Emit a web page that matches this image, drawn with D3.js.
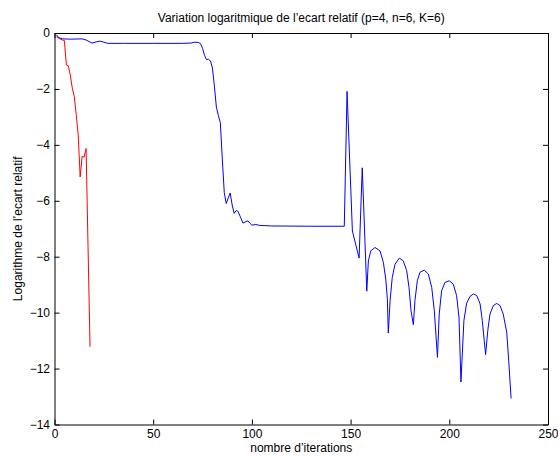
<!DOCTYPE html>
<html>
<head>
<meta charset="utf-8">
<script src="https://cdn.jsdelivr.net/npm/d3@7/dist/d3.min.js"></script>
<style>
  html, body { margin: 0; padding: 0; background: #fff; }
  svg { display: block; }
  text { font-family: "Liberation Sans", Arial, Helvetica, sans-serif; }
</style>
</head>
<body>
<svg id="chart" width="558" height="458"></svg>
<script>
// ---- Data ----
const title = "Variation logaritmique de l\u2019ecart relatif (p=4, n=6, K=6)";
const xLabel = "nombre d\u2019iterations";
const yLabel = "Logarithme de l\u2019ecart relatif";
const xTicks = [0, 50, 100, 150, 200, 250];
const yTicks = [0, -2, -4, -6, -8, -10, -12, -14];

const redIter  = [1, 2, 3, 4, 5, 6, 7, 8, 9, 10, 11, 12, 13, 14, 15, 16, 17, 18];
const redValue = [-0.14, -0.19, -0.22, -0.25, -0.27, -1.14, -1.17, -1.50, -1.97, -2.27,
                  -2.92, -3.63, -5.15, -4.41, -4.44, -4.13, -7.68, -11.22];

const blueIter = [1, 2, 4, 8, 14, 16, 19, 21, 23, 25, 27, 35, 50, 65, 69, 71, 73, 74, 75, 76,
  77, 78, 79, 80, 81, 82, 83, 84, 85, 86, 87, 88, 89, 90, 91, 92, 93, 94, 95.5, 97,
  98, 99, 100, 102, 104, 110, 130, 146.8,
  148.2, 150.9, 154.3, 155.9, 158.2,
  159.0, 160.2, 162.4, 164.9, 166.6, 167.8, 168.6, 169.1,
  170.0, 171.1, 172.5, 174.7, 176.7, 178.4, 179.6, 180.6, 181.8,
  182.6, 183.8, 185.1, 187.3, 189.4, 191.1, 192.4, 194.0,
  194.9, 196.1, 197.8, 200.0, 202.0, 203.7, 204.9, 205.9,
  207.4, 208.8, 210.5, 212.2, 213.9, 215.6, 216.7, 217.7, 218.4,
  219.5, 220.6, 222.3, 224.0, 225.7, 227.3, 229.1, 230.2, 231.3];
const blueValue = [-0.06, -0.16, -0.21, -0.22, -0.21, -0.25, -0.36, -0.32, -0.29, -0.33, -0.37, -0.37, -0.37, -0.37, -0.36, -0.33, -0.34, -0.38, -0.55, -0.80,
  -0.95, -0.94, -1.00, -1.25, -1.90, -2.65, -2.95, -3.20, -4.50, -5.70, -6.10, -5.90, -5.72, -6.15, -6.45, -6.35, -6.38, -6.55, -6.80, -6.74,
  -6.72, -6.80, -6.87, -6.85, -6.88, -6.90, -6.91, -6.91,
  -2.09, -7.08, -8.05, -4.82, -9.23,
  -8.15, -7.79, -7.67, -7.79, -8.20, -8.80, -9.49, -10.73,
  -9.57, -8.74, -8.27, -8.05, -8.15, -8.50, -9.10, -9.93, -10.43,
  -9.57, -8.86, -8.56, -8.48, -8.62, -9.10, -9.93, -11.60,
  -10.05, -9.22, -8.92, -8.86, -8.98, -9.39, -10.16, -12.48,
  -10.28, -9.66, -9.42, -9.33, -9.39, -9.69, -10.28, -11.00, -11.50,
  -10.64, -10.05, -9.75, -9.67, -9.75, -10.05, -10.70, -11.83, -13.07];

// ---- Layout ----
const svg = d3.select("#chart");
const L = 54.5, R = 548, T = 33, B = 424.5;
const x = d3.scaleLinear().domain([0, 250]).range([L, R]);
const y = d3.scaleLinear().domain([-14, 0]).range([B, T]);
const tickLen = 5;
const fmt = d => (d < 0 ? "\u2212" + Math.abs(d) : String(d));

// Lines
const line = d3.line().x(d => x(d[0])).y(d => y(d[1]));
svg.append("clipPath").attr("id", "clip")
  .append("rect").attr("x", L).attr("y", T).attr("width", R - L).attr("height", B - T);

const plot = svg.append("g").attr("clip-path", "url(#clip)");
plot.append("path")
  .datum(blueIter.map((d, i) => [d, blueValue[i]]))
  .attr("d", line).attr("fill", "none").attr("stroke", "#0000ff").attr("stroke-width", 1);
plot.append("path")
  .datum(redIter.map((d, i) => [d, redValue[i]]))
  .attr("d", line).attr("fill", "none").attr("stroke", "#ff0000").attr("stroke-width", 1);

// Axes (MATLAB style: box, inward ticks on all sides)
const gB = svg.append("g").attr("transform", `translate(0,${B})`)
  .call(d3.axisBottom(x).tickValues(xTicks).tickSizeInner(-tickLen).tickSizeOuter(0).tickPadding(5));
const gT = svg.append("g").attr("transform", `translate(0,${T})`)
  .call(d3.axisTop(x).tickValues(xTicks).tickSizeInner(-tickLen).tickSizeOuter(0).tickFormat(""));
const gL = svg.append("g").attr("transform", `translate(${L},0)`)
  .call(d3.axisLeft(y).tickValues(yTicks).tickSizeInner(-tickLen).tickSizeOuter(0).tickPadding(4.5).tickFormat(fmt));
const gR = svg.append("g").attr("transform", `translate(${R},0)`)
  .call(d3.axisRight(y).tickValues(yTicks).tickSizeInner(-tickLen).tickSizeOuter(0).tickFormat(""));

[gB, gT, gL, gR].forEach(g => {
  g.selectAll(".domain").attr("stroke", "#000").attr("stroke-width", 1);
  g.selectAll(".tick line").attr("stroke", "#000");
  g.selectAll("text").attr("fill", "#000").style("font-size", "12px")
    .style("font-family", "'Liberation Sans', Arial, Helvetica, sans-serif");
});

// Title and labels
svg.append("text").attr("x", (L + R) / 2).attr("y", 21.5)
  .attr("text-anchor", "middle").style("font-size", "12px").attr("fill", "#000").text(title);
svg.append("text").attr("x", (L + R) / 2).attr("y", 452)
  .attr("text-anchor", "middle").style("font-size", "12px").attr("fill", "#000").text(xLabel);
svg.append("text").attr("transform", `translate(22,${(T + B) / 2}) rotate(-90)`)
  .attr("text-anchor", "middle").style("font-size", "12px").attr("fill", "#000").text(yLabel);
</script>
</body>
</html>
